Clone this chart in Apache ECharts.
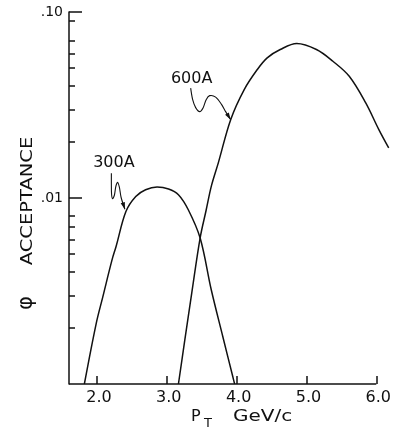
<!DOCTYPE html>
<html>
<head>
<meta charset="utf-8">
<script src="https://cdn.jsdelivr.net/npm/echarts@6/dist/echarts.min.js"></script>
<style>
  html, body { margin: 0; padding: 0; background: #fff; }
  #chart { width: 394px; height: 429px; }
</style>
</head>
<body>
<div id="chart"></div>
<script>
// curves: pT (GeV/c) vs phi acceptance
const pt300 = [1.82, 1.99, 2.085, 2.217, 2.274, 2.415, 2.556, 2.697, 2.861, 3.026, 3.167, 3.308, 3.478, 3.637, 3.802, 3.944, 3.972];
const acc300 = [0.001, 0.00212, 0.00295, 0.00466, 0.00549, 0.00847, 0.0102, 0.01108, 0.01146, 0.01118, 0.01042, 0.00865, 0.00609, 0.00321, 0.0018, 0.0011, 0.001];

const pt600 = [3.167, 3.259, 3.358, 3.478, 3.562, 3.640, 3.739, 3.915, 4.109, 4.296, 4.438, 4.625, 4.861, 5.143, 5.379, 5.613, 5.849, 6.037, 6.178];
const acc600 = [0.001, 0.00173, 0.00309, 0.00611, 0.00854, 0.01165, 0.0155, 0.02638, 0.03828, 0.04904, 0.05669, 0.06283, 0.06767, 0.06283, 0.05434, 0.04513, 0.03245, 0.02331, 0.01858];

const xTicks = [2, 3, 4, 5, 6];
const xRange = [1.6, 6.0];     // drawn extent of the horizontal axis
const yMajor = [0.01, 0.1];
const yMajorLabels = ['.01', '.10'];
const yMinor = [0.002, 0.003, 0.004, 0.005, 0.006, 0.007, 0.008, 0.02, 0.03, 0.04, 0.05, 0.06, 0.07, 0.09];

// where the labelled arrows touch each curve
const arrow300 = [2.40, 0.0087];
const arrow600 = [3.915, 0.02638];

const FONT = 'DejaVu Sans';
const ink = '#111';

const chart = echarts.init(document.getElementById('chart'));

const toPairs = (xs, ys) => xs.map((x, i) => [x, ys[i]]);

chart.setOption({
  animation: false,
  grid: { left: 69, right: 0, top: 12, bottom: 45 },
  xAxis: {
    type: 'value',
    min: 1.6,
    max: 6.2,
    axisLine: { show: false },
    axisTick: { inside: true, length: 8, customValues: xTicks, lineStyle: { color: ink, width: 1.5 } },
    axisLabel: {
      customValues: xTicks,
      formatter: v => v.toFixed(1),
      color: ink, fontFamily: FONT, fontSize: 16, margin: 6, padding: [0, 0, 0, 4]
    },
    splitLine: { show: false }
  },
  yAxis: [
    {
      type: 'log',
      logBase: 10,
      min: 0.001,
      max: 0.1,
      position: 'left',
      axisLine: { show: true, lineStyle: { color: ink, width: 1.5 } },
      axisTick: { inside: true, length: 13, customValues: yMajor, lineStyle: { color: ink, width: 1.5 } },
      axisLabel: {
        customValues: yMajor,
        formatter: v => yMajorLabels[v > 0.05 ? 1 : 0],
        color: ink, fontFamily: FONT, fontSize: 14, margin: 6, padding: [4, 0, 0, 0]
      },
      splitLine: { show: false }
    },
    {
      type: 'log',
      logBase: 10,
      min: 0.001,
      max: 0.1,
      position: 'left',
      axisLine: { show: false },
      axisTick: { inside: true, length: 6, customValues: yMinor, lineStyle: { color: ink, width: 1.5 } },
      axisLabel: { show: false },
      splitLine: { show: false }
    }
  ],
  series: [
    {
      name: '300A', type: 'line', yAxisIndex: 0,
      showSymbol: false, smooth: 0.35,
      lineStyle: { color: ink, width: 1.5 },
      data: toPairs(pt300, acc300),
      // the horizontal axis line stops at 6.0 while the curve runs on
      markLine: {
        silent: true, symbol: 'none', label: { show: false },
        lineStyle: { color: ink, width: 1.5, type: 'solid' },
        data: [[{ coord: [xRange[0], 0.001] }, { coord: [xRange[1], 0.001] }]]
      }
    },
    {
      name: '600A', type: 'line', yAxisIndex: 0,
      showSymbol: false, smooth: 0.35,
      lineStyle: { color: ink, width: 1.5 },
      data: toPairs(pt600, acc600)
    }
  ]
});

// leader lines with arrow heads, hung off the curve points
function leader(tip, rel, label, labelOff) {
  const pts = rel.map(p => [tip[0] + p[0], tip[1] + p[1]]);
  const a = pts[pts.length - 1];
  const dx = tip[0] - a[0], dy = tip[1] - a[1];
  const len = Math.hypot(dx, dy);
  const ux = dx / len, uy = dy / len;
  const bx = tip[0] - ux * 7, by = tip[1] - uy * 7;
  return [
    {
      type: 'polyline', silent: true,
      shape: { points: pts.concat([tip]), smooth: 0.3 },
      style: { stroke: ink, lineWidth: 1.1, fill: null }
    },
    {
      type: 'polygon', silent: true,
      shape: { points: [tip, [bx - uy * 2.2, by + ux * 2.2], [bx + uy * 2.2, by - ux * 2.2]] },
      style: { fill: ink }
    },
    {
      type: 'text', silent: true,
      x: tip[0] + labelOff[0], y: tip[1] + labelOff[1],
      style: { text: label, fill: ink, font: '16px "' + FONT + '"', align: 'center', verticalAlign: 'middle' }
    }
  ];
}

const tip300 = chart.convertToPixel({ xAxisIndex: 0, yAxisIndex: 0 }, arrow300);
const tip600 = chart.convertToPixel({ xAxisIndex: 0, yAxisIndex: 0 }, arrow600);

const lead300 = [[-13.5, -36], [-13.5, -25], [-13.3, -15], [-12.3, -10.5], [-10.5, -14], [-9, -23], [-7.3, -27], [-5.5, -22], [-3.8, -12]];
const lead600 = [[-40, -31.5], [-38, -20], [-35, -12], [-31, -8], [-27.5, -12], [-24.5, -20], [-21, -24], [-15, -22.5], [-9, -15], [-5, -8]];

chart.setOption({
  graphic: [
    ...leader(tip300, lead300, '300A', [-11, -46]),
    ...leader(tip600, lead600, '600A', [-39, -41]),
    {
      type: 'text', silent: true, x: 28, y: 201, rotation: Math.PI / 2, scaleX: 1.3,
      style: { text: 'ACCEPTANCE', fill: ink, font: '15px "' + FONT + '"', align: 'center', verticalAlign: 'middle' }
    },
    {
      type: 'text', silent: true, x: 27, y: 303, rotation: Math.PI / 2,
      style: { text: 'φ', fill: ink, font: '21px "' + FONT + '"', align: 'center', verticalAlign: 'middle' }
    },
    {
      type: 'text', silent: true, x: 191, y: 417,
      style: { text: 'P', fill: ink, font: '16px "' + FONT + '"', align: 'left', verticalAlign: 'middle' }
    },
    {
      type: 'text', silent: true, x: 204, y: 424,
      style: { text: 'T', fill: ink, font: '13px "' + FONT + '"', align: 'left', verticalAlign: 'middle' }
    },
    {
      type: 'text', silent: true, x: 233, y: 417, scaleX: 1.25,
      style: { text: 'GeV/c', fill: ink, font: '16px "' + FONT + '"', align: 'left', verticalAlign: 'middle' }
    }
  ]
});
</script>
</body>
</html>
